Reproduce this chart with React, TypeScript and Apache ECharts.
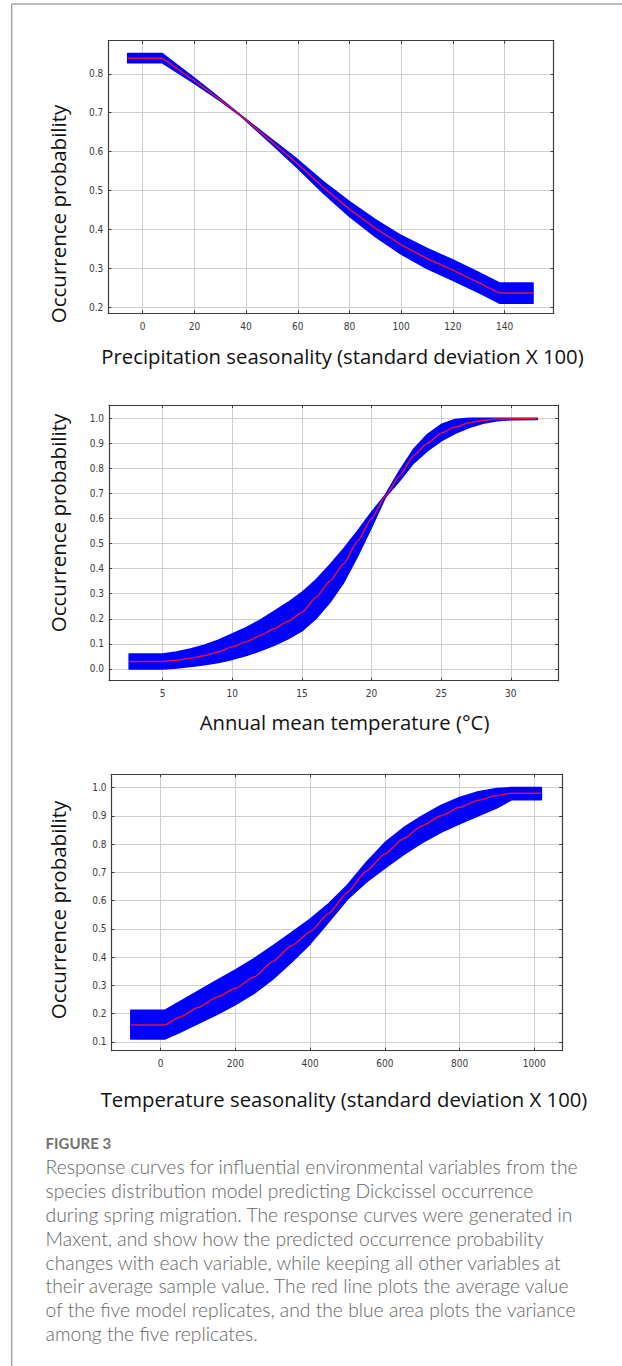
import React, { useEffect, useRef } from "react";
import * as echarts from "echarts";

// ---------- Data ----------
// Panel 1: Precipitation seasonality
const precipX = [-5.8, 7.6, 20, 30, 38, 50, 60, 70, 80, 90, 100, 110, 120, 130, 138, 151];
const precipMean = [0.84, 0.84, 0.782, 0.733, 0.692, 0.625, 0.568, 0.507, 0.452, 0.403, 0.36, 0.325, 0.295, 0.263, 0.236, 0.236];
const precipUpper = [0.852, 0.852, 0.789, 0.736, 0.693, 0.631, 0.579, 0.522, 0.471, 0.425, 0.384, 0.351, 0.321, 0.289, 0.262, 0.262];
const precipLower = [0.828, 0.828, 0.775, 0.73, 0.691, 0.619, 0.557, 0.492, 0.433, 0.381, 0.336, 0.299, 0.269, 0.237, 0.21, 0.21];

// Panel 2: Annual mean temperature
const tempX = [2.6, 5, 6, 7, 8, 9, 10, 11, 12, 13, 14, 15, 16, 17, 18, 19, 20, 21, 22, 23, 24, 25, 26, 27, 28, 29, 30, 31.9];
const tempMean = [0.03, 0.03, 0.035, 0.043, 0.053, 0.068, 0.088, 0.108, 0.133, 0.16, 0.19, 0.225, 0.285, 0.35, 0.42, 0.51, 0.6, 0.69, 0.77, 0.85, 0.9, 0.94, 0.965, 0.982, 0.992, 0.997, 0.998, 0.998];
const tempUpper = [0.06, 0.06, 0.068, 0.08, 0.095, 0.115, 0.14, 0.165, 0.195, 0.23, 0.265, 0.305, 0.355, 0.415, 0.48, 0.55, 0.625, 0.695, 0.79, 0.875, 0.935, 0.975, 0.995, 1.0, 1.0, 1.0, 1.0, 1.0];
const tempLower = [0.0, 0.0, 0.004, 0.01, 0.017, 0.026, 0.038, 0.053, 0.072, 0.094, 0.12, 0.152, 0.2, 0.265, 0.345, 0.45, 0.565, 0.685, 0.75, 0.82, 0.87, 0.91, 0.94, 0.963, 0.98, 0.99, 0.994, 0.995];

// Panel 3: Temperature seasonality
const seasX = [-80, 10.5, 50, 100, 150, 200, 250, 300, 350, 400, 450, 500, 550, 600, 650, 700, 750, 800, 850, 900, 939, 1019];
const seasMean = [0.16, 0.16, 0.187, 0.222, 0.258, 0.29, 0.33, 0.385, 0.44, 0.49, 0.555, 0.63, 0.705, 0.765, 0.82, 0.865, 0.9, 0.93, 0.955, 0.972, 0.98, 0.98];
const seasUpper = [0.212, 0.212, 0.242, 0.28, 0.318, 0.355, 0.395, 0.44, 0.487, 0.535, 0.59, 0.655, 0.735, 0.805, 0.858, 0.9, 0.937, 0.965, 0.985, 0.997, 1.0, 1.0];
const seasLower = [0.11, 0.11, 0.133, 0.165, 0.197, 0.232, 0.272, 0.322, 0.382, 0.447, 0.525, 0.605, 0.665, 0.715, 0.763, 0.805, 0.842, 0.872, 0.9, 0.928, 0.957, 0.957];

const xTitles = [
  "Precipitation seasonality (standard deviation X 100)",
  "Annual mean temperature (\u00B0C)",
  "Temperature seasonality (standard deviation X 100)",
];
const yTitle = "Occurrence probability";
const figureLabel = "FIGURE 3";
const captionLines = [
  "Response curves for influential environmental variables from the",
  "species distribution model predicting Dickcissel occurrence",
  "during spring migration. The response curves were generated in",
  "Maxent, and show how the predicted occurrence probability",
  "changes with each variable, while keeping all other variables at",
  "their average sample value. The red line plots the average value",
  "of the five model replicates, and the blue area plots the variance",
  "among the five replicates.",
];

// ---------- Layout ----------
const panels = [
  { xs: precipX, mean: precipMean, up: precipUpper, low: precipLower, smooth: false,
    grid: { left: 108.3, top: 40.7, width: 445.4, height: 272.6 },
    xMin: -13.3, xMax: 159, xInt: 20, xSplit: 8, yMin: 0.184, yMax: 0.885, ySplit: 7,
    yTitleY: 214, xTitleX: 342.5, xTitleY: 356 },
  { xs: tempX, mean: tempMean, up: tempUpper, low: tempLower, smooth: true,
    grid: { left: 109.1, top: 405, width: 449.1, height: 275.7 },
    xMin: 1.16, xMax: 33.4, xInt: 5, xSplit: 6, yMin: -0.047, yMax: 1.053, ySplit: 11,
    yTitleY: 523, xTitleX: 344.5, xTitleY: 722 },
  { xs: seasX, mean: seasMean, up: seasUpper, low: seasLower, smooth: true,
    grid: { left: 111.5, top: 774.3, width: 450.6, height: 276.4 },
    xMin: -131.7, xMax: 1074.4, xInt: 200, xSplit: 6, yMin: 0.069, yMax: 1.047, ySplit: 10,
    yTitleY: 910, xTitleX: 344, xTitleY: 1099 },
];

const TICK_FONT = "'Liberation Sans Narrow','DejaVu Sans Condensed','Liberation Sans',Arial,sans-serif";
const TITLE_FONT = "'Open Sans','Noto Sans',sans-serif";
const CAPTION_FONT = "Lato,'Open Sans',sans-serif";
const FRAME = "#3c3c3c";

export default function App() {
  const ref = useRef<HTMLDivElement>(null);

  useEffect(() => {
    if (!ref.current) return;
    const chart = echarts.init(ref.current, undefined, { renderer: "svg" });

    const grids: any[] = [];
    const xAxes: any[] = [];
    const yAxes: any[] = [];
    const series: any[] = [];
    const graphics: any[] = [];

    panels.forEach((p, gi) => {
      grids.push({ ...p.grid, containLabel: false, show: false });
      const axLine = { show: true, onZero: false, lineStyle: { color: FRAME, width: 1.2 } };
      const axTick = { show: true, inside: true, length: 3, lineStyle: { color: FRAME, width: 1 } };
      const xBase = {
        type: "value", gridIndex: gi, min: p.xMin, max: p.xMax,
        minInterval: p.xInt, maxInterval: p.xInt, splitNumber: p.xSplit,
        axisLine: axLine, axisTick: axTick,
      };
      const yBase = {
        type: "value", gridIndex: gi, min: p.yMin, max: p.yMax,
        minInterval: 0.1, maxInterval: 0.1, splitNumber: p.ySplit,
        axisLine: axLine, axisTick: axTick,
      };
      xAxes.push({
        ...xBase, position: "bottom",
        axisLabel: { showMinLabel: false, showMaxLabel: false, fontSize: 10, color: "#3a3a3a",
          fontFamily: TICK_FONT, margin: 8, formatter: (v: number) => String(Math.round(v)) },
        splitLine: { show: true, lineStyle: { color: "#cfcfcf", width: 1 } },
      });
      xAxes.push({ ...xBase, position: "top", axisLabel: { show: false }, splitLine: { show: false } });
      yAxes.push({
        ...yBase, position: "left",
        axisLabel: { showMinLabel: false, showMaxLabel: false, fontSize: 10, color: "#3a3a3a",
          fontFamily: TICK_FONT, margin: 5, formatter: (v: number) => v.toFixed(1) },
        splitLine: { show: true, lineStyle: { color: "#cfcfcf", width: 1 } },
      });
      yAxes.push({ ...yBase, position: "right", axisLabel: { show: false }, splitLine: { show: false } });

      const xi = gi * 2;
      const yi = gi * 2;
      const xs = p.xs, up = p.up, low = p.low;
      series.push({
        type: "custom",
        xAxisIndex: xi, yAxisIndex: yi,
        data: xs.map((x, i) => [x, low[i], up[i]]),
        encode: { x: 0, y: [1, 2] },
        z: 2,
        silent: true,
        renderItem: (params: any, api: any) => {
          if (params.dataIndex !== 0) return null;
          const top = xs.map((x, i) => api.coord([x, up[i]]));
          const bot = xs.map((x, i) => api.coord([x, low[i]])).reverse();
          return {
            type: "polygon",
            shape: { points: top.concat(bot) },
            style: { fill: "#0000ff", stroke: "#0000ff", lineWidth: 1.5, lineJoin: "round" },
          };
        },
      });
      series.push({
        type: "line",
        xAxisIndex: xi, yAxisIndex: yi,
        data: xs.map((x, i) => [x, p.mean[i]]),
        symbol: "none",
        smooth: p.smooth ? 0.2 : false,
        smoothMonotone: "x",
        lineStyle: { color: "#e0123c", width: 1.5 },
        z: 3,
        silent: true,
      });

      graphics.push({
        type: "text",
        x: 57.5, y: p.yTitleY, rotation: Math.PI / 2,
        style: { text: yTitle, font: `20.5px ${TITLE_FONT}`, fill: "#111",
          align: "center", verticalAlign: "middle", textAlign: "center", textVerticalAlign: "middle" },
      });
      graphics.push({
        type: "text",
        x: p.xTitleX, y: p.xTitleY,
        style: { text: xTitles[gi], font: `20.3px ${TITLE_FONT}`, fill: "#111",
          align: "center", verticalAlign: "middle", textAlign: "center", textVerticalAlign: "middle" },
      });
    });

    // Page frame
    graphics.push({ type: "line", shape: { x1: 11.7, y1: 4, x2: 622, y2: 4 },
      style: { stroke: "#a8a8a8", lineWidth: 1.5 } });
    graphics.push({ type: "line", shape: { x1: 11.7, y1: 4, x2: 11.7, y2: 1366 },
      style: { stroke: "#a8a8a8", lineWidth: 1.5 } });

    // Caption
    graphics.push({
      type: "text", x: 45.6, y: 1142.7,
      style: { text: figureLabel, font: `bold 15px ${CAPTION_FONT}`, fill: "#737373",
        align: "left", verticalAlign: "middle", textAlign: "left", textVerticalAlign: "middle" },
    });
    captionLines.forEach((line, i) => {
      graphics.push({
        type: "text", x: 45.6, y: 1166.7 + i * 23.85,
        style: { text: line, font: `300 19.3px ${CAPTION_FONT}`, fill: "#666666",
          align: "left", verticalAlign: "middle", textAlign: "left", textVerticalAlign: "middle" },
      });
    });

    chart.setOption({
      animation: false,
      backgroundColor: "#ffffff",
      grid: grids,
      xAxis: xAxes,
      yAxis: yAxes,
      series,
      graphic: graphics,
    });

    return () => chart.dispose();
  }, []);

  return (
    <div
      ref={ref}
      style={{ position: "absolute", left: 0, top: 0, width: 622, height: 1366, background: "#fff" }}
    />
  );
}
